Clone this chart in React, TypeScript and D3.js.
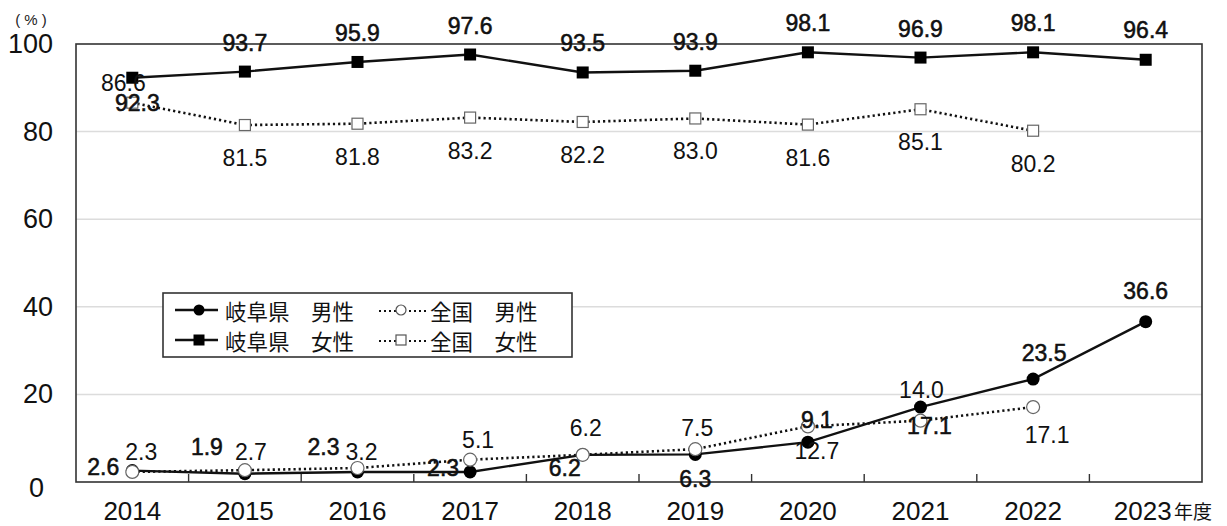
import React from "react";
import * as d3 from "d3";

const years = ["2014", "2015", "2016", "2017", "2018", "2019", "2020", "2021", "2022", "2023"];
const gifuMale = [2.6, 1.9, 2.3, 2.3, 6.2, 6.3, 9.1, 17.1, 23.5, 36.6];
const nationalMale = [2.3, 2.7, 3.2, 5.1, 6.2, 7.5, 12.7, 14.0, 17.1];
const gifuFemale = [92.3, 93.7, 95.9, 97.6, 93.5, 93.9, 98.1, 96.9, 98.1, 96.4];
const nationalFemale = [86.6, 81.5, 81.8, 83.2, 82.2, 83.0, 81.6, 85.1, 80.2];
const yTicks = [0, 20, 40, 60, 80, 100];

// label placement offsets (dx, dy) relative to each point, as in the original
const gifuMaleLabelOff: [number, number][] = [[-29, -4], [-38, -27], [-34, -25], [-27, -4], [-18, 13], [0, 25], [9, -22], [9, 19], [11, -26], [0, -31]];
const nationalMaleLabelOff: [number, number][] = [[9, -20], [6, -18], [4, -16], [8, -20], [3, -27], [2, -21], [9, 25], [1, -31], [14, 28]];
const gifuFemaleLabelOff: [number, number][] = [[5, 25], [0, -29], [0, -29], [0, -29], [0, -29], [0, -29], [0, -29], [0, -29], [0, -29], [0, -30]];
const nationalFemaleLabelOff: [number, number][] = [[-9, -20], [0, 33], [0, 33], [0, 33], [0, 33], [0, 33], [0, 33], [0, 33], [0, 33]];

const W = 1227, H = 526;
const left = 76, right = 1202, top = 44, bottom = 482;

const NUM_FONT = "'Liberation Sans', Arial, sans-serif";
const JP_FONT = "'Noto Sans CJK JP', sans-serif";

export default function App() {
  const x = d3.scaleBand<string>().domain(years).range([left, right]);
  const y = d3.scaleLinear().domain([0, 100]).range([bottom, top]);
  const cx = (i: number) => (x(years[i]) as number) + x.bandwidth() / 2;

  const line = d3.line<number>().x((_, i) => cx(i)).y((d) => y(d));

  const labels = (vals: number[], offs: [number, number][], bold: boolean, key: string) =>
    vals.map((v, i) => (
      <text
        key={key + i}
        x={cx(i) + offs[i][0]}
        y={y(v) + offs[i][1]}
        textAnchor="middle"
        dominantBaseline="central"
        fontFamily={NUM_FONT}
        fontSize={23}
        fill="#111"
        stroke={bold ? "#111" : "none"}
        strokeWidth={bold ? 0.55 : 0}
      >
        {v.toFixed(1)}
      </text>
    ));

  const sq = 12;
  const sqH = 11;

  return (
    <svg width={W} height={H} style={{ position: "absolute", left: 0, top: 0, background: "#fff" }}>
      <rect x={0} y={0} width={W} height={H} fill="#fff" />
      {/* gridlines */}
      {yTicks.filter((t) => t > 0 && t < 100).map((t) => (
        <line key={"g" + t} x1={left} x2={right} y1={y(t)} y2={y(t)} stroke="#dcdcdc" strokeWidth={1.5} />
      ))}
      {/* frame */}
      <rect x={left} y={top} width={right - left} height={bottom - top} fill="none" stroke="#333" strokeWidth={1.6} />
      {/* x ticks at category boundaries */}
      {years.slice(1).map((yr) => (
        <line key={"t" + yr} x1={x(yr)} x2={x(yr)} y1={bottom} y2={bottom - 8} stroke="#333" strokeWidth={1.4} />
      ))}
      {/* y tick labels */}
      {yTicks.map((t) => (
        <text key={"y" + t} x={t === 0 ? 44 : 53} y={y(t) + (t === 0 ? 6 : 0)} textAnchor="end" dominantBaseline="central"
          fontFamily={NUM_FONT} fontSize={27} fill="#111">{t}</text>
      ))}
      <text x={31} y={19} textAnchor="middle" dominantBaseline="central" fontFamily={NUM_FONT} fontSize={15} fill="#222">( % )</text>
      {/* x labels */}
      {years.map((yr, i) => (
        <text key={"x" + yr} x={cx(i) - (i === years.length - 1 ? 3 : 0)} y={511} textAnchor="middle" dominantBaseline="central"
          fontFamily={NUM_FONT} fontSize={26} fill="#111">{yr}</text>
      ))}
      <text x={1174} y={510} dominantBaseline="central" fontFamily={JP_FONT} fontSize={19} fill="#111">年度</text>

      {/* national female */}
      <path d={line(nationalFemale) || ""} fill="none" stroke="#111" strokeWidth={2.6} strokeDasharray="2.2 3" />
      {nationalFemale.map((v, i) => (
        <rect key={"nf" + i} x={cx(i) - sqH / 2} y={y(v) - sqH / 2} width={sqH} height={sqH} fill="#fff" stroke="#666" strokeWidth={1.2} />
      ))}
      {/* gifu female */}
      <path d={line(gifuFemale) || ""} fill="none" stroke="#111" strokeWidth={2.4} />
      {gifuFemale.map((v, i) => (
        <rect key={"gf" + i} x={cx(i) - sq / 2} y={y(v) - sq / 2} width={sq} height={sq} fill="#000" />
      ))}
      {/* national male */}
      <path d={line(nationalMale) || ""} fill="none" stroke="#111" strokeWidth={2.6} strokeDasharray="2.2 3" />
      {/* gifu male */}
      <path d={line(gifuMale) || ""} fill="none" stroke="#111" strokeWidth={2.4} />
      {gifuMale.map((v, i) => (
        <circle key={"gm" + i} cx={cx(i)} cy={y(v)} r={6.5} fill="#000" />
      ))}
      {nationalMale.map((v, i) => (
        <circle key={"nm" + i} cx={cx(i)} cy={y(v)} r={6.5} fill="#fff" stroke="#666" strokeWidth={1.2} />
      ))}

      {/* data labels */}
      {labels(gifuFemale, gifuFemaleLabelOff, true, "lgf")}
      {labels(nationalFemale, nationalFemaleLabelOff, false, "lnf")}
      {labels(gifuMale, gifuMaleLabelOff, true, "lgm")}
      {labels(nationalMale, nationalMaleLabelOff, false, "lnm")}

      {/* legend */}
      <rect x={163} y={293} width={409} height={64} fill="#fff" stroke="#333" strokeWidth={1.6} />
      <line x1={175} x2={218} y1={310} y2={310} stroke="#111" strokeWidth={2.4} />
      <circle cx={199} cy={310} r={5.5} fill="#000" />
      <text x={225} y={310} dominantBaseline="central" fontFamily={JP_FONT} fontSize={21.5} fill="#111">岐阜県　男性</text>
      <line x1={175} x2={218} y1={340} y2={340} stroke="#111" strokeWidth={2.4} />
      <rect x={193.5} y={334.5} width={11} height={11} fill="#000" />
      <text x={225} y={340} dominantBaseline="central" fontFamily={JP_FONT} fontSize={21.5} fill="#111">岐阜県　女性</text>

      <line x1={379} x2={427} y1={311} y2={311} stroke="#111" strokeWidth={2} strokeDasharray="2 3" />
      <circle cx={401} cy={310} r={5} fill="#fff" stroke="#555" strokeWidth={1.2} />
      <text x={430} y={310} dominantBaseline="central" fontFamily={JP_FONT} fontSize={21.5} fill="#111">全国　男性</text>
      <line x1={379} x2={427} y1={341} y2={341} stroke="#111" strokeWidth={2} strokeDasharray="2 3" />
      <rect x={396} y={335} width={10} height={10} fill="#fff" stroke="#555" strokeWidth={1.2} />
      <text x={430} y={340} dominantBaseline="central" fontFamily={JP_FONT} fontSize={21.5} fill="#111">全国　女性</text>
    </svg>
  );
}
